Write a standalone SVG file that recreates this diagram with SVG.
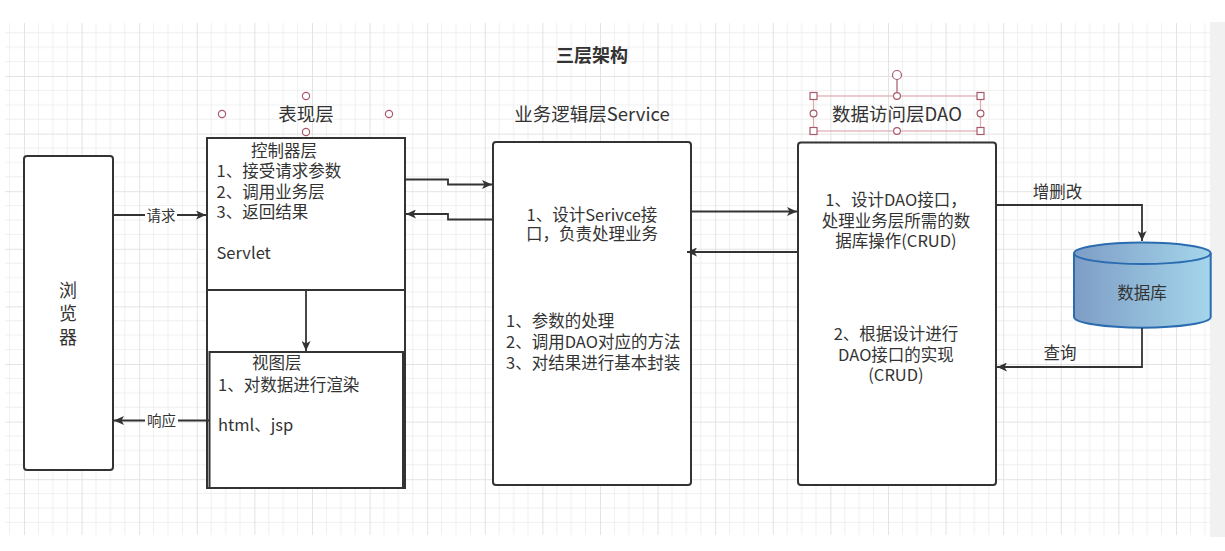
<svg xmlns="http://www.w3.org/2000/svg" width="1225" height="551" viewBox="0 0 1225 551">
<style>
text{font-family:"Noto Sans CJK SC","Noto Sans",sans-serif;fill:#333}
.t16{font-size:16.5px}
.hdr{font-size:18.5px}
.ttl{font-size:18px;font-weight:bold}
.lbl{font-size:14.5px}
.box{fill:#fff;stroke:#333;stroke-width:2}
.con{fill:none;stroke:#333;stroke-width:1.8}
.hnd{fill:#fff;stroke:#a85a6c;stroke-width:1.2}
</style>
<defs>
<pattern id="grid" x="24" y="18.4" width="57.6" height="57.6" patternUnits="userSpaceOnUse">
<path d="M14.4,0V57.6M28.8,0V57.6M43.2,0V57.6M0,14.4H57.6M0,28.8H57.6M0,43.2H57.6" stroke="#efefef" stroke-width="1" fill="none"/>
<path d="M0.5,0V57.6M0,0.5H57.6" stroke="#e3e3e3" stroke-width="1" fill="none"/>
</pattern>
<marker id="arr" markerWidth="11" markerHeight="9" refX="10" refY="4.5" orient="auto" markerUnits="userSpaceOnUse">
<path d="M0,0 L10,4.5 L0,9 L2.5,4.5 Z" fill="#333"/>
</marker>
<linearGradient id="dbg" x1="0" y1="0" x2="1" y2="0">
<stop offset="0" stop-color="#7e9dc5"/>
<stop offset="1" stop-color="#a4d6eb"/>
</linearGradient>
</defs>
<rect x="0" y="0" width="1225" height="551" fill="#fff"/>
<rect x="5" y="23" width="1205" height="512" fill="url(#grid)"/>
<rect x="1210" y="22" width="15" height="515" fill="#f1f1f1"/>

<text class="ttl" x="592" y="62" text-anchor="middle">三层架构</text>

<g id="hdr-view">
<text class="hdr" x="306" y="121" text-anchor="middle">表现层</text>
<circle class="hnd" cx="222" cy="114" r="3.6"/>
<circle class="hnd" cx="389" cy="114" r="3.6"/>
<circle class="hnd" cx="306" cy="96" r="3.6"/>
<circle class="hnd" cx="306" cy="132" r="3.6"/>
</g>
<g id="hdr-service">
<text class="hdr" x="592" y="121" text-anchor="middle">业务逻辑层Service</text>
</g>
<g id="hdr-dao">
<rect x="813.5" y="96" width="167" height="35" fill="none" stroke="#dcaab2" stroke-width="1.2"/>
<line x1="897" y1="79" x2="897" y2="96" stroke="#a85a6c" stroke-width="1.2"/>
<circle class="hnd" cx="897" cy="75" r="4.5"/>
<text class="hdr" x="897" y="121" text-anchor="middle">数据访问层DAO</text>
<rect class="hnd" x="810" y="92.5" width="7" height="7"/>
<rect class="hnd" x="977" y="92.5" width="7" height="7"/>
<rect class="hnd" x="810" y="127.5" width="7" height="7"/>
<rect class="hnd" x="977" y="127.5" width="7" height="7"/>
<circle class="hnd" cx="897" cy="96" r="3.4"/>
<circle class="hnd" cx="897" cy="131" r="3.4"/>
<circle class="hnd" cx="813.5" cy="113.5" r="3.4"/>
<circle class="hnd" cx="980.5" cy="113.5" r="3.4"/>
</g>

<g id="browser">
<rect class="box" x="24" y="156" width="89" height="314" rx="3"/>
<text x="68" y="297" text-anchor="middle" style="font-size:18px">浏</text>
<text x="68" y="320" text-anchor="middle" style="font-size:18px">览</text>
<text x="68" y="344" text-anchor="middle" style="font-size:18px">器</text>
</g>

<g id="presentation">
<rect class="box" x="207" y="138" width="198" height="350"/>
<line x1="207" y1="290" x2="405" y2="290" stroke="#333" stroke-width="2"/>
</g>
<g id="controller">
<text class="t16" x="251" y="156.5">控制器层</text>
<text class="t16" x="216.5" y="177">1、接受请求参数</text>
<text class="t16" x="216.5" y="197.5">2、调用业务层</text>
<text class="t16" x="216.5" y="218">3、返回结果</text>
<text class="t16" x="216.5" y="259">Servlet</text>
</g>
<g id="view">
<rect class="box" x="209.5" y="352" width="193.5" height="136"/>
<text class="t16" x="252" y="369">视图层</text>
<text class="t16" x="218" y="390.5">1、对数据进行渲染</text>
<text class="t16" x="218" y="430.5">html、jsp</text>
</g>

<g id="service">
<rect class="box" x="493" y="142" width="198" height="343" rx="3"/>
<text class="t16" x="592" y="220.5" text-anchor="middle">1、设计Serivce接</text>
<text class="t16" x="592" y="240" text-anchor="middle">口，负责处理业务</text>
<text class="t16" x="506" y="327">1、参数的处理</text>
<text class="t16" x="506" y="348">2、调用DAO对应的方法</text>
<text class="t16" x="506" y="368.5">3、对结果进行基本封装</text>
</g>

<g id="dao">
<rect class="box" x="798" y="142.5" width="198" height="342.5" rx="3"/>
<text class="t16" x="896" y="205.5" text-anchor="middle">1、设计DAO接口，</text>
<text class="t16" x="896" y="226.5" text-anchor="middle">处理业务层所需的数</text>
<text class="t16" x="896" y="246.5" text-anchor="middle">据库操作(CRUD)</text>
<text class="t16" x="896" y="339.5" text-anchor="middle">2、根据设计进行</text>
<text class="t16" x="896" y="360.5" text-anchor="middle">DAO接口的实现</text>
<text class="t16" x="896" y="380.5" text-anchor="middle">(CRUD)</text>
</g>

<g id="database">
<path d="M1074,253.3 A68.3,10.7 0 0 1 1210.7,253.3 V317 A68.3,10.7 0 0 1 1074,317 Z" fill="url(#dbg)" stroke="#2b6cb0" stroke-width="2"/>
<path d="M1074,253.3 A68.3,10.7 0 0 0 1210.7,253.3" fill="none" stroke="#2b6cb0" stroke-width="2"/>
<text class="t16" x="1142" y="299" text-anchor="middle">数据库</text>
</g>

<g id="connectors">
<path class="con" d="M113,215 H206" marker-end="url(#arr)"/>
<rect x="145" y="206" width="32" height="18" fill="#fff"/>
<text class="lbl" x="161" y="220.5" text-anchor="middle">请求</text>
<path class="con" d="M209,420.5 H114" marker-end="url(#arr)"/>
<rect x="145" y="411.5" width="33" height="18" fill="#fff"/>
<text class="lbl" x="161.5" y="426" text-anchor="middle">响应</text>
<path class="con" d="M405,179.5 H448 V184.5 H492" marker-end="url(#arr)"/>
<path class="con" d="M493,219.5 H448 V214 H406" marker-end="url(#arr)"/>
<path class="con" d="M306,291 V351" marker-end="url(#arr)"/>
<path class="con" d="M691,211.5 H797" marker-end="url(#arr)"/>
<path class="con" d="M798,252 H687" marker-end="url(#arr)"/>
<path class="con" d="M996,205 H1142 V241" marker-end="url(#arr)"/>
<text class="t16" x="1057.5" y="197.5" text-anchor="middle">增删改</text>
<path class="con" d="M1142,328 V367 H997" marker-end="url(#arr)"/>
<text class="t16" x="1060" y="359" text-anchor="middle">查询</text>
</g>
</svg>
